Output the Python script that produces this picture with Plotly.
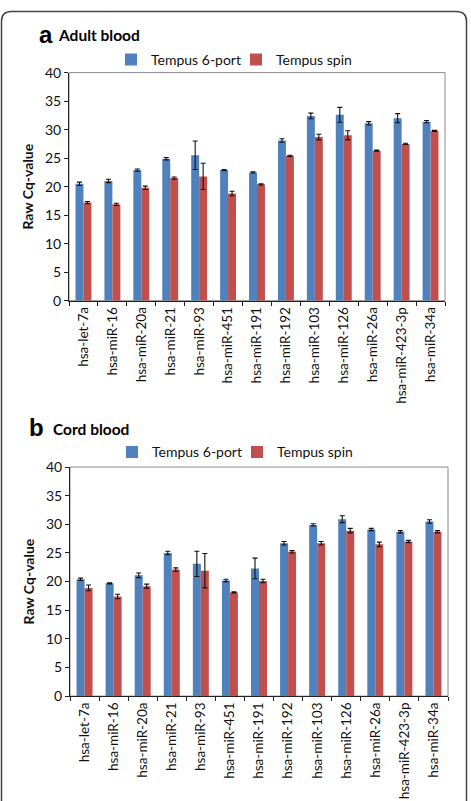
import plotly.graph_objects as go
import re

W, H = 471, 801

categories = ["hsa-let-7a", "hsa-miR-16", "hsa-miR-20a", "hsa-miR-21", "hsa-miR-93",
              "hsa-miR-451", "hsa-miR-191", "hsa-miR-192", "hsa-miR-103", "hsa-miR-126",
              "hsa-miR-26a", "hsa-miR-423-3p", "hsa-miR-34a"]

# Panel a: Adult blood
adult_6port = [20.5, 21.0, 22.9, 24.9, 25.5, 22.9, 22.5, 28.1, 32.4, 32.6, 31.1, 32.0, 31.4]
adult_6port_err = [0.3, 0.3, 0.2, 0.2, 2.5, 0.1, 0.1, 0.3, 0.5, 1.3, 0.3, 0.8, 0.2]
adult_spin = [17.2, 16.9, 19.8, 21.5, 21.8, 18.8, 20.4, 25.4, 28.7, 29.0, 26.3, 27.5, 29.8]
adult_spin_err = [0.2, 0.2, 0.3, 0.2, 2.3, 0.4, 0.1, 0.1, 0.5, 0.8, 0.1, 0.1, 0.1]

# Panel b: Cord blood
cord_6port = [20.4, 19.7, 21.1, 25.0, 23.1, 20.2, 22.3, 26.7, 29.9, 30.9, 29.1, 28.7, 30.5]
cord_6port_err = [0.2, 0.1, 0.4, 0.3, 2.2, 0.2, 1.8, 0.3, 0.2, 0.6, 0.2, 0.2, 0.3]
cord_spin = [18.9, 17.4, 19.2, 22.1, 21.9, 18.1, 20.1, 25.2, 26.7, 28.9, 26.5, 27.0, 28.7]
cord_spin_err = [0.5, 0.4, 0.35, 0.3, 3.0, 0.1, 0.3, 0.2, 0.3, 0.4, 0.4, 0.2, 0.2]

series_names = ["Tempus 6-port", "Tempus spin"]
colors = ["#4F81BD", "#C0504D"]

FONT = "Lato"

def px_x(x):
    return x / W

def px_y(y):
    return 1 - y / H

fig = go.Figure()

err_style = dict(type="data", color="#111111", thickness=1.1, width=2.5, visible=True)

panels = [
    (adult_6port, adult_6port_err, adult_spin, adult_spin_err, "x", "y", "legend"),
    (cord_6port, cord_6port_err, cord_spin, cord_spin_err, "x2", "y2", "legend2"),
]
for v1, e1, v2, e2, xa, ya, lg in panels:
    for vals, errs, name, col in [(v1, e1, series_names[0], colors[0]),
                                  (v2, e2, series_names[1], colors[1])]:
        fig.add_trace(go.Bar(
            x=categories, y=vals, name=name, marker_color=col,
            marker_line_width=0,
            error_y=dict(array=errs, **err_style),
            xaxis=xa, yaxis=ya, legend=lg,
        ))

axis_common_x = dict(
    type="category", showline=True, linecolor="#222222", linewidth=1,
    ticks="outside", ticklen=4, tickcolor="#222222", tickson="boundaries",
    tickangle=-90, tickfont=dict(family=FONT, size=13.5, color="#111111"),
    showgrid=False, zeroline=False,
)
axis_common_y = dict(
    range=[0, 40], dtick=5, showline=True, linecolor="#222222", linewidth=1,
    ticks="outside", ticklen=4, tickcolor="#222222",
    tickfont=dict(family=FONT, size=14, color="#111111"),
    showgrid=False, zeroline=False,
    title=dict(text="<b>Raw Cq-value</b>", font=dict(family=FONT, size=14, color="#111111"),
               standoff=8),
)

legend_common = dict(orientation="h", xanchor="left", yanchor="middle",
                     font=dict(family=FONT, size=14, color="#111111"),
                     bgcolor="rgba(0,0,0,0)", entrywidth=80, itemwidth=30)

fig.update_layout(
    width=W, height=H,
    margin=dict(l=0, r=0, t=0, b=0),
    paper_bgcolor="white", plot_bgcolor="white",
    barmode="group", bargap=0.45, bargroupgap=0.0,
    xaxis=dict(domain=[px_x(69), px_x(445)], anchor="y", **axis_common_x),
    yaxis=dict(domain=[px_y(298), px_y(65)], anchor="x", **axis_common_y),
    xaxis2=dict(domain=[px_x(70), px_x(448)], anchor="y2", **axis_common_x),
    yaxis2=dict(domain=[px_y(702), px_y(468)], anchor="x2", **axis_common_y),
    legend=dict(x=px_x(111), y=px_y(52), **legend_common),
    legend2=dict(x=px_x(112), y=px_y(453), **legend_common),
    showlegend=True,
)

# panel labels
for txt, x, y in [("a", 37, 26), ("b", 27, 428)]:
    fig.add_annotation(text=f"<b>{txt}</b>", x=px_x(x), y=px_y(y), xref="paper", yref="paper",
                       xanchor="left", yanchor="middle", showarrow=False,
                       font=dict(family="Liberation Sans", size=24, color="#000000"))
for txt, x, y in [("Adult blood", 56, 27), ("Cord blood", 51, 429)]:
    fig.add_annotation(text=f"<b>{txt}</b>", x=px_x(x), y=px_y(y), xref="paper", yref="paper",
                       xanchor="left", yanchor="middle", showarrow=False,
                       font=dict(family=FONT, size=15.5, color="#000000"))

# plot-area borders (gray, Excel style)
for xr, yr in [("x domain", "y domain"), ("x2 domain", "y2 domain")]:
    fig.add_shape(type="rect", xref=xr, yref=yr, x0=0, x1=1, y0=0, y1=1,
                  line=dict(color="#8c8c8c", width=1), layer="below")

# outer rounded frame
r = 10
x0, x1, y0, y1 = 1.5, 466.5, 2.5, 820
path = (f"M {x0+r},{y0} L {x1-r},{y0} Q {x1},{y0} {x1},{y0+r} L {x1},{y1} "
        f"L {x0},{y1} L {x0},{y0+r} Q {x0},{y0} {x0+r},{y0} Z")

def conv(m):
    a, b = float(m.group(1)), float(m.group(2))
    return f"{px_x(a):.5f},{px_y(b):.5f}"

path_paper = re.sub(r"([\d.]+),([\d.]+)", conv, path)
fig.add_shape(type="path", path=path_paper, xref="paper", yref="paper",
              line=dict(color="#444444", width=1.5))

fig.write_html("out.html")
